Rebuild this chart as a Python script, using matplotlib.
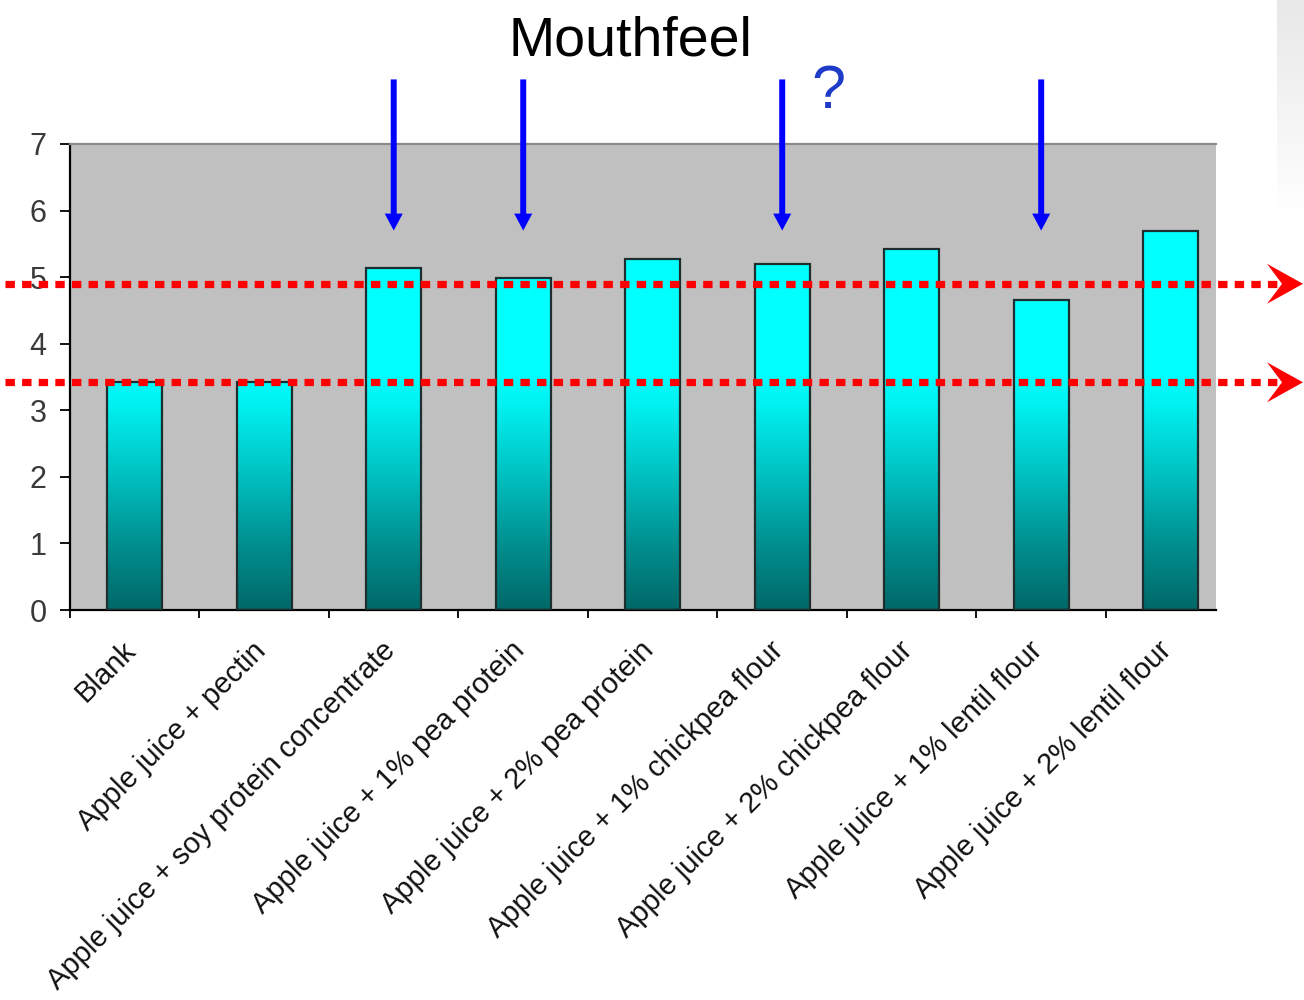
import numpy as np
import matplotlib
matplotlib.use("Agg")
import matplotlib.pyplot as plt
from matplotlib.colors import LinearSegmentedColormap
from matplotlib.patches import Polygon
from matplotlib.transforms import blended_transform_factory, ScaledTranslation

# ---- data -------------------------------------------------------------
categories = [
    "Blank",
    "Apple juice + pectin",
    "Apple juice + soy protein concentrate",
    "Apple juice + 1% pea protein",
    "Apple juice + 2% pea protein",
    "Apple juice + 1% chickpea flour",
    "Apple juice + 2% chickpea flour",
    "Apple juice + 1% lentil flour",
    "Apple juice + 2% lentil flour",
]
scores = [3.43, 3.43, 5.13, 4.98, 5.28, 5.19, 5.43, 4.65, 5.70]
reference_levels = [4.90, 3.42]
highlighted = [2, 3, 5, 7]
y_ticks = [0, 1, 2, 3, 4, 5, 6, 7]
title = "Mouthfeel"
question_mark = "?"

plt.rcParams["font.family"] = ["Liberation Sans", "DejaVu Sans"]

W, H, DPI = 13.04, 10.0, 100
fig = plt.figure(figsize=(W, H), dpi=DPI, facecolor="white")

# light grey slide edge at the top right
deco = fig.add_axes([1277 / 1304, 1 - 215 / 1000, 27 / 1304, 215 / 1000])
fade = np.linspace(0.91, 1.0, 64)[:, None] * np.ones((1, 4))
deco.imshow(np.dstack([fade, fade, fade]), aspect="auto", extent=(0, 1, 0, 1))
deco.axis("off")

ax = fig.add_axes([70 / 1304, 0.39, 1146 / 1304, 0.466])
ax.set_facecolor("#C0C0C0")

x = np.arange(len(categories))
bar_w = 0.425
bars = ax.bar(x, scores, width=bar_w, facecolor="none",
              edgecolor="#1E2E2E", linewidth=1.6, zorder=3)

# vertical cyan -> teal fill, clipped to each bar
ymax = y_ticks[-1]
cmap = LinearSegmentedColormap.from_list(
    "teal", [(0.0, "#006868"), (0.143, "#009090"), (0.286, "#00C0C0"),
             (0.43, "#00EEEE"), (0.5, "#00FFFF"), (1.0, "#00FFFF")])
grad = np.linspace(0, 1, 256)[:, None]
for xi, rect in zip(x, bars.patches):
    im = ax.imshow(grad, extent=(xi - bar_w / 2, xi + bar_w / 2, 0, ymax),
                   origin="lower", aspect="auto", cmap=cmap, vmin=0, vmax=1,
                   zorder=2)
    im.set_clip_path(rect)

# the plot area stops a little short of the last category boundary
ax.set_xlim(-0.5, len(categories) - 0.65)
ax.set_ylim(0, ymax)

# spines
for s in ("left", "bottom"):
    ax.spines[s].set_color("black")
    ax.spines[s].set_linewidth(1.6)
ax.spines["top"].set_color("#8A8A8A")
ax.spines["top"].set_linewidth(1.6)
ax.spines["right"].set_visible(False)

# ticks
ax.set_yticks(y_ticks)
ax.tick_params(axis="y", direction="out", length=7, width=1.3, pad=10,
               labelsize=22, labelcolor="#3A3A3A")
ax.set_xticks(x)
ax.set_xticks(np.arange(-0.5, len(categories) - 1), minor=True)
ax.tick_params(axis="x", which="major", length=0, pad=19)
ax.tick_params(axis="x", which="minor", direction="out", length=6, width=1.3)
ax.set_xticklabels(categories, rotation=45, ha="right", va="top",
                   rotation_mode="anchor", fontsize=21, color="#111111")
shift = ScaledTranslation(-13 / DPI, 0, fig.dpi_scale_trans)
for lab in ax.get_xticklabels():
    lab.set_transform(lab.get_transform() + shift)

# red dotted reference lines with arrow heads past the axes
fig.canvas.draw()
blend = blended_transform_factory(ax.transAxes, ax.transData)
x_left = (5 - 70) / 1146
x_notch = (1282 - 70) / 1146
to_fig = fig.transFigure.inverted()
for lvl in reference_levels:
    ax.plot([x_left, x_notch], [lvl, lvl], transform=blend, color="#FF0000",
            lw=5.2, ls=(0, (1.3, 1.0)), dash_capstyle="butt",
            clip_on=False, zorder=5)
    yf = to_fig.transform(ax.transData.transform((0, lvl)))[1]
    head = Polygon([(1303 / 1304, yf), (1267 / 1304, yf + 0.020),
                    (1282 / 1304, yf), (1267 / 1304, yf - 0.020)],
                   closed=True, transform=fig.transFigure,
                   facecolor="#FF0000", edgecolor="none", zorder=6)
    fig.patches.append(head)

# blue arrows over the highlighted samples
for i in highlighted:
    ax.annotate("", xy=(i, 5.70), xytext=(i, 7.97),
                arrowprops=dict(arrowstyle="simple,head_length=1.22,head_width=1.3,tail_width=0.43",
                                facecolor="#0000FF", edgecolor="none", lw=0,
                                shrinkA=0, shrinkB=0, mutation_scale=10),
                annotation_clip=False, zorder=7)

fig.text(630.5 / 1304, 1 - 55 / 1000, title, ha="center", va="baseline",
         fontsize=40, color="black")
fig.text(828 / 1304, 1 - 108 / 1000, question_mark, ha="center",
         va="baseline", fontsize=44, color="#1E3CC8")

fig.savefig("out.png", dpi=DPI, facecolor="white")
